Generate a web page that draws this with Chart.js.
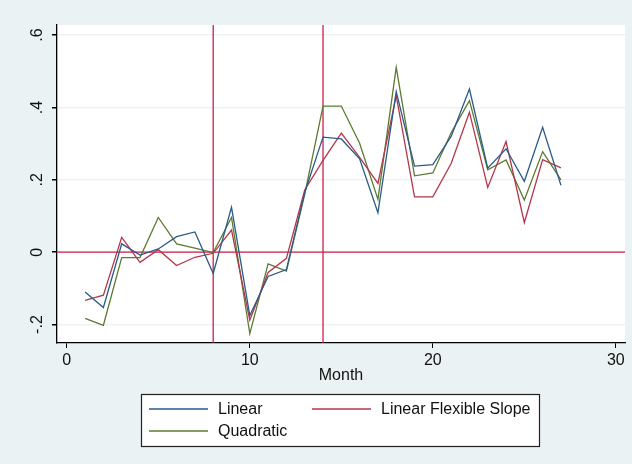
<!DOCTYPE html>
<html lang="en">
<head>
    <meta charset="UTF-8">
    <title>Month estimates</title>
    <script src="https://cdn.jsdelivr.net/npm/chart.js"></script>
    <style>
        html, body { margin: 0; padding: 0; background: #eaf2f3; }
        #chart-box { width: 632px; height: 464px; }
    </style>
</head>
<body>
    <div id="chart-box">
        <canvas id="month-chart" width="632" height="464"></canvas>
    </div>

    <script>
        // data
        const months = [1, 2, 3, 4, 5, 6, 7, 8, 9, 10, 11, 12, 13, 14, 15, 16, 17, 18, 19, 20, 21, 22, 23, 24, 25, 26, 27];
        const linear = [-0.110, -0.153, 0.023, -0.008, 0.009, 0.043, 0.056, -0.059, 0.124, -0.175, -0.067, -0.048, 0.165, 0.318, 0.313, 0.258, 0.109, 0.444, 0.238, 0.242, 0.320, 0.451, 0.232, 0.286, 0.196, 0.345, 0.185];
        const flexibleSlope = [-0.133, -0.119, 0.041, -0.028, 0.007, -0.037, -0.014, -0.003, 0.061, -0.188, -0.056, -0.017, 0.172, 0.254, 0.329, 0.262, 0.190, 0.433, 0.153, 0.153, 0.245, 0.387, 0.179, 0.306, 0.082, 0.256, 0.233];
        const quadratic = [-0.183, -0.202, -0.015, -0.015, 0.096, 0.023, 0.011, -0.001, 0.096, -0.225, -0.032, -0.052, 0.160, 0.404, 0.404, 0.301, 0.146, 0.511, 0.211, 0.219, 0.330, 0.419, 0.228, 0.255, 0.144, 0.278, 0.200];

        const xTicks = [0, 10, 20, 30];
        const yTicks = [-0.2, 0, 0.2, 0.4, 0.6];
        const yTickLabels = ['-.2', '0', '.2', '.4', '.6'];
        const xLines = [8, 14];
        const yLines = [0];

        const seriesNames = ['Linear', 'Linear Flexible Slope', 'Quadratic'];
        const seriesColors = ['#2b5b88', '#b3374a', '#5b7b32'];
        const refColor = '#cc1f48';
        const font = "'Liberation Sans', Arial, sans-serif";

        function toPoints(values) {
            return months.map((m, i) => ({ x: m, y: values[i] }));
        }

        const backgroundPlugin = {
            id: 'background',
            beforeDraw(chart) {
                const ctx = chart.ctx;
                const a = chart.chartArea;
                ctx.save();
                ctx.fillStyle = '#eaf2f3';
                ctx.fillRect(0, 0, chart.width, chart.height);
                ctx.fillStyle = '#ffffff';
                ctx.fillRect(a.left, a.top, a.right - a.left, a.bottom - a.top);
                ctx.restore();
            }
        };

        const refLinesPlugin = {
            id: 'refLines',
            beforeDatasetsDraw(chart) {
                const ctx = chart.ctx;
                const a = chart.chartArea;
                const xs = chart.scales.x;
                const ys = chart.scales.y;
                ctx.save();
                ctx.strokeStyle = refColor;
                ctx.lineWidth = 1.3;
                xLines.forEach(v => {
                    const px = xs.getPixelForValue(v);
                    ctx.beginPath();
                    ctx.moveTo(px, a.top);
                    ctx.lineTo(px, a.bottom);
                    ctx.stroke();
                });
                yLines.forEach(v => {
                    const py = ys.getPixelForValue(v);
                    ctx.beginPath();
                    ctx.moveTo(a.left, py);
                    ctx.lineTo(a.right, py);
                    ctx.stroke();
                });
                ctx.restore();
            }
        };

        // y labels are rotated in the original, Chart.js can't rotate them on a vertical axis
        const yLabelPlugin = {
            id: 'yLabels',
            afterDraw(chart) {
                const ctx = chart.ctx;
                const ys = chart.scales.y;
                ctx.save();
                ctx.fillStyle = '#111';
                ctx.font = '16px ' + font;
                ctx.textAlign = 'center';
                ctx.textBaseline = 'middle';
                yTicks.forEach((v, i) => {
                    const py = ys.getPixelForValue(v);
                    ctx.save();
                    ctx.translate(38, py);
                    ctx.rotate(-Math.PI / 2);
                    ctx.fillText(yTickLabels[i], 0, 0);
                    ctx.restore();
                });
                ctx.restore();
            }
        };

        const legendPlugin = {
            id: 'boxLegend',
            afterDraw(chart) {
                const ctx = chart.ctx;
                const slots = [
                    { lx: 149, tx: 218, y: 409 },
                    { lx: 312, tx: 381, y: 409 },
                    { lx: 149, tx: 218, y: 431 }
                ];
                ctx.save();
                ctx.fillStyle = '#ffffff';
                ctx.fillRect(141, 394, 398, 52);
                ctx.strokeStyle = '#222';
                ctx.lineWidth = 1.2;
                ctx.strokeRect(141.5, 394.5, 398, 52);
                ctx.font = '16px ' + font;
                ctx.textBaseline = 'middle';
                ctx.textAlign = 'left';
                chart.data.datasets.forEach((ds, i) => {
                    const s = slots[i];
                    ctx.strokeStyle = ds.borderColor;
                    ctx.lineWidth = 1.5;
                    ctx.beginPath();
                    ctx.moveTo(s.lx, s.y);
                    ctx.lineTo(s.lx + 59, s.y);
                    ctx.stroke();
                    ctx.fillStyle = '#111';
                    ctx.fillText(ds.label, s.tx, s.y + 1);
                });
                ctx.restore();
            }
        };

        const ctx = document.getElementById('month-chart').getContext('2d');
        const chart = new Chart(ctx, {
            type: 'line',
            data: {
                datasets: [
                    { label: seriesNames[0], data: toPoints(linear), borderColor: seriesColors[0] },
                    { label: seriesNames[1], data: toPoints(flexibleSlope), borderColor: seriesColors[1] },
                    { label: seriesNames[2], data: toPoints(quadratic), borderColor: seriesColors[2] }
                ]
            },
            options: {
                responsive: false,
                animation: false,
                events: [],
                layout: {
                    padding: { left: 0, top: 25, right: 7, bottom: 79 }
                },
                elements: {
                    point: { radius: 0 },
                    line: { borderWidth: 1.3, tension: 0, fill: false }
                },
                plugins: {
                    legend: { display: false },
                    tooltip: { enabled: false }
                },
                scales: {
                    x: {
                        type: 'linear',
                        min: -0.535,
                        max: 30.5,
                        afterBuildTicks: axis => { axis.ticks = xTicks.map(v => ({ value: v })); },
                        afterFit: axis => { axis.height = 42; },
                        grid: { drawOnChartArea: false, drawTicks: true, tickLength: 5, color: '#000', tickColor: '#000' },
                        border: { display: true, color: '#000', width: 1.3 },
                        ticks: {
                            color: '#111',
                            padding: 3,
                            maxRotation: 0,
                            font: { family: font, size: 16 }
                        },
                        title: {
                            display: true,
                            text: 'Month',
                            color: '#111',
                            padding: { top: 0, bottom: 0 },
                            font: { family: font, size: 16 }
                        }
                    },
                    y: {
                        type: 'linear',
                        min: -0.251,
                        max: 0.628,
                        afterBuildTicks: axis => { axis.ticks = yTicks.map(v => ({ value: v })); },
                        afterFit: axis => { axis.width = 57; },
                        grid: { color: '#edf3f3', lineWidth: 1.5, drawTicks: true, tickLength: 5, tickColor: '#000' },
                        border: { display: true, color: '#000', width: 1.3 },
                        ticks: { display: false }
                    }
                }
            },
            plugins: [backgroundPlugin, refLinesPlugin, yLabelPlugin, legendPlugin]
        });
    </script>
</body>
</html>
